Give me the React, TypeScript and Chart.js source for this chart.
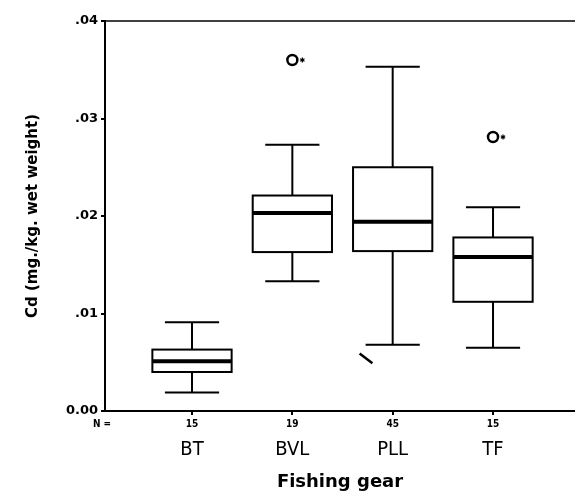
import React, { useEffect, useRef } from "react";
import { Chart, registerables } from "chart.js";

Chart.register(...registerables);

// ---- data ----
const categories = ["BT", "BVL", "PLL", "TF"];
const counts = [15, 19, 45, 15];
const whiskerLow = [0.0019, 0.0133, 0.0068, 0.0065];
const q1 = [0.0040, 0.0163, 0.0164, 0.0112];
const median = [0.0051, 0.0203, 0.0194, 0.0158];
const q3 = [0.0063, 0.0221, 0.0250, 0.0178];
const whiskerHigh = [0.0091, 0.0273, 0.0353, 0.0209];
const outlierGroup = [2, 4];
const outlierValues = [0.0360, 0.0281];
const strayGroup = [2.734];
const strayValues = [0.0054];
const yTickValues = [0, 0.01, 0.02, 0.03, 0.04];
const yTickLabels = ["0.00", ".01", ".02", ".03", ".04"];
const yTitle = "Cd (mg./kg. wet weight)";
const xTitle = "Fishing gear";

const boxPlugin = {
  id: "boxes",
  afterDatasetsDraw(chart: any) {
    const { ctx, scales } = chart;
    const x = scales.x;
    const y = scales.y;
    const unit = x.getPixelForValue(2) - x.getPixelForValue(1);
    const half = unit * 0.395;
    const cap = unit * 0.27;
    ctx.save();
    ctx.strokeStyle = "#000";
    ctx.lineCap = "butt";
    categories.forEach((_, i) => {
      const cx = x.getPixelForValue(i + 1);
      const yLo = y.getPixelForValue(whiskerLow[i]);
      const yQ1 = y.getPixelForValue(q1[i]);
      const yMed = y.getPixelForValue(median[i]);
      const yQ3 = y.getPixelForValue(q3[i]);
      const yHi = y.getPixelForValue(whiskerHigh[i]);
      ctx.lineWidth = 2;
      ctx.beginPath();
      ctx.moveTo(cx, yQ3);
      ctx.lineTo(cx, yHi);
      ctx.moveTo(cx, yQ1);
      ctx.lineTo(cx, yLo);
      ctx.moveTo(cx - cap, yHi);
      ctx.lineTo(cx + cap, yHi);
      ctx.moveTo(cx - cap, yLo);
      ctx.lineTo(cx + cap, yLo);
      ctx.stroke();
      ctx.fillStyle = "#fff";
      ctx.fillRect(cx - half, yQ3, half * 2, yQ1 - yQ3);
      ctx.strokeRect(cx - half, yQ3, half * 2, yQ1 - yQ3);
      ctx.lineWidth = 4;
      ctx.beginPath();
      ctx.moveTo(cx - half, yMed);
      ctx.lineTo(cx + half, yMed);
      ctx.stroke();
    });
    const meta = chart.getDatasetMeta(0);
    ctx.lineWidth = 1.2;
    meta.data.forEach((pt: any) => {
      const ax = pt.x + 10;
      const ay = pt.y;
      const r = 2.5;
      ctx.beginPath();
      for (let k = 0; k < 3; k++) {
        const a = (k * Math.PI) / 3 + Math.PI / 2;
        ctx.moveTo(ax - r * Math.cos(a), ay - r * Math.sin(a));
        ctx.lineTo(ax + r * Math.cos(a), ay + r * Math.sin(a));
      }
      ctx.stroke();
    });
    ctx.restore();
  },
  afterDraw(chart: any) {
    const { ctx, chartArea, scales } = chart;
    const x = scales.x;
    ctx.save();
    ctx.strokeStyle = "#000";
    ctx.lineWidth = 1.5;
    ctx.beginPath();
    ctx.moveTo(chartArea.left, chartArea.top);
    ctx.lineTo(chartArea.right, chartArea.top);
    ctx.stroke();
    ctx.fillStyle = "#000";
    ctx.font = "bold 10px 'Liberation Sans Narrow', 'DejaVu Sans Condensed', sans-serif";
    ctx.textAlign = "center";
    ctx.textBaseline = "middle";
    const ny = chartArea.bottom + 13;
    counts.forEach((n, i) => {
      ctx.fillText(String(n), x.getPixelForValue(i + 1), ny);
    });
    ctx.fillText("N =", chartArea.left - 3, ny);
    ctx.restore();
  },
};

export default function App() {
  const ref = useRef<HTMLCanvasElement | null>(null);
  useEffect(() => {
    if (!ref.current) return;
    const chart = new Chart(ref.current, {
      type: "scatter",
      data: {
        datasets: [
          {
            label: "outliers",
            data: outlierGroup.map((g, i) => ({ x: g, y: outlierValues[i] })),
            pointStyle: "circle",
            pointRadius: 5,
            pointBorderWidth: 2.5,
            borderColor: "#000",
            backgroundColor: "#fff",
          },
          {
            label: "stray",
            data: strayGroup.map((g, i) => ({ x: g, y: strayValues[i] })),
            pointStyle: "line",
            pointRadius: 8,
            rotation: 37,
            pointBorderWidth: 2.5,
            borderColor: "#000",
            backgroundColor: "#000",
          },
        ],
      },
      options: {
        animation: false,
        responsive: true,
        maintainAspectRatio: false,
        layout: { autoPadding: false, padding: { top: 21, right: 0, left: 0, bottom: 0 } },
        plugins: {
          legend: { display: false },
          tooltip: { enabled: false },
        },
        scales: {
          x: {
            type: "linear",
            min: 0.1329,
            max: 4.817,
            afterFit: (s: any) => {
              s.height = 84;
              s.paddingLeft = 0;
              s.paddingRight = 0;
            },
            afterBuildTicks: (s: any) => {
              s.ticks = categories.map((_, i) => ({ value: i + 1 }));
            },
            ticks: {
              color: "#000",
              padding: 23,
              autoSkip: false,
              maxRotation: 0,
              font: { family: "'DejaVu Sans Condensed', 'DejaVu Sans', sans-serif", size: 20 },
              callback: (v: any) => categories[Number(v) - 1] ?? "",
            },
            grid: {
              display: true,
              drawOnChartArea: false,
              drawTicks: true,
              tickLength: 4,
              color: "#000",
              lineWidth: 2,
            },
            border: { display: true, color: "#000", width: 2 },
            title: {
              display: true,
              text: xTitle,
              color: "#000",
              font: { family: "'DejaVu Sans', sans-serif", size: 18, weight: "bold" },
              padding: { top: 0, bottom: 2 },
            },
          },
          y: {
            type: "linear",
            min: 0,
            max: 0.04,
            afterFit: (s: any) => {
              s.width = 105;
              s.paddingTop = 0;
              s.paddingBottom = 0;
            },
            afterBuildTicks: (s: any) => {
              s.ticks = yTickValues.map((v) => ({ value: v }));
            },
            ticks: {
              color: "#000",
              padding: 3,
              font: { family: "'DejaVu Sans', sans-serif", size: 13, weight: "bold" },
              callback: (v: any) => {
                const idx = yTickValues.findIndex((t) => Math.abs(t - Number(v)) < 1e-9);
                return idx >= 0 ? yTickLabels[idx] : "";
              },
            },
            grid: {
              display: true,
              drawOnChartArea: false,
              drawTicks: true,
              tickLength: 4,
              color: "#000",
              lineWidth: 2,
            },
            border: { display: true, color: "#000", width: 2 },
            title: {
              display: true,
              text: yTitle,
              color: "#000",
              font: { family: "'DejaVu Sans', sans-serif", size: 15, weight: "bold" },
              padding: { top: 24, bottom: 0 },
            },
          },
        },
      },
      plugins: [boxPlugin],
    });
    return () => chart.destroy();
  }, []);
  return (
    <div style={{ position: "absolute", left: 0, top: 0, width: 575, height: 495, background: "#fff" }}>
      <canvas ref={ref} />
    </div>
  );
}
